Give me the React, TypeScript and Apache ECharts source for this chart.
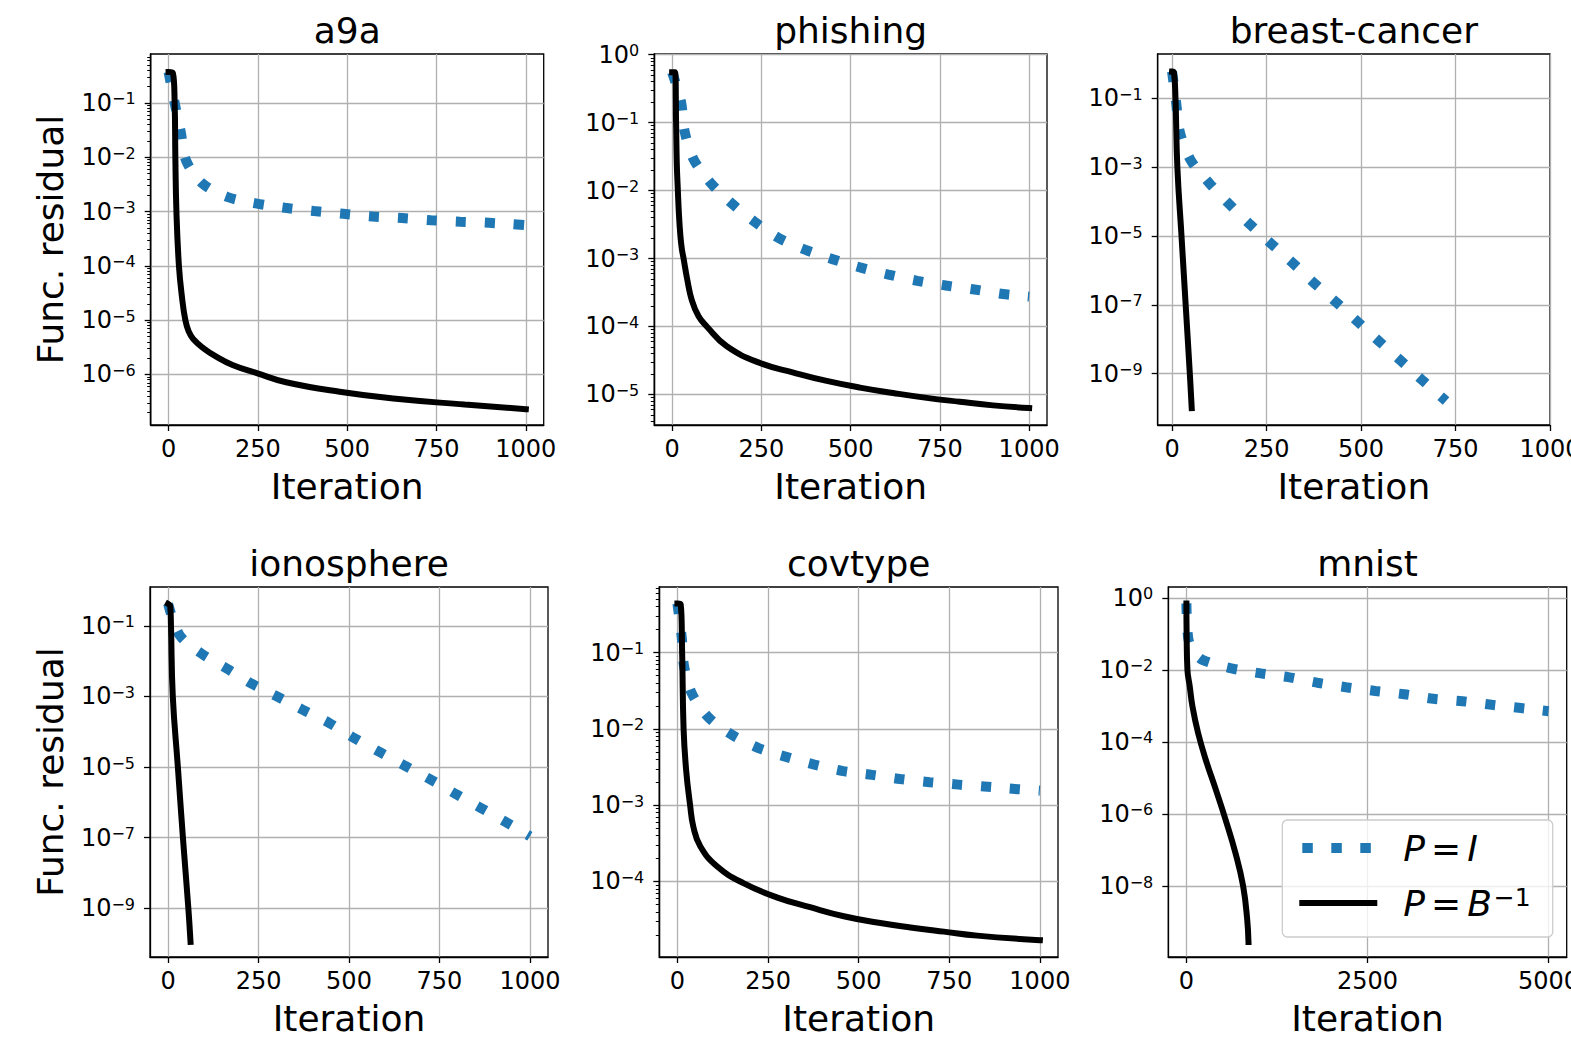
import React, { useEffect, useRef } from 'react';
import * as echarts from 'echarts';

const FONT = 'DejaVu Sans';
const BLUE = '#1f77b4';

// ---- tick labels ----
const xTicks1000 = [0, 250, 500, 750, 1000];
const xTicks5000 = [0, 2500, 5000];
const a9aYExp = [-6, -5, -4, -3, -2, -1];
const phYExp = [-5, -4, -3, -2, -1, 0];
const bcYExp = [-9, -7, -5, -3, -1];
const ioYExp = [-9, -7, -5, -3, -1];
const ctYExp = [-4, -3, -2, -1];
const mnYExp = [-8, -6, -4, -2, 0];

// ---- data: a9a ----
const a9aIterPI = [0, 17, 34, 49, 94, 164, 244, 326, 407, 489, 571, 653, 735, 816, 897, 1000];
const a9aResPI = [0.37, 0.1, 0.0295, 0.0087, 0.0033, 0.00186, 0.00141, 0.00117, 0.00102, 0.00091, 0.00081, 0.00076, 0.00069, 0.00065, 0.00062, 0.00056];
const a9aIterPB = [0, 12, 17, 19, 22, 29, 38, 47, 56, 69, 99, 130, 179, 249, 329, 479, 629, 829, 1000];
const a9aResPB = [0.37, 0.355, 0.1, 0.01, 1e-3, 1e-4, 2.5e-5, 1e-5, 6.3e-6, 4.5e-6, 3.0e-6, 2.2e-6, 1.5e-6, 1.05e-6, 7.2e-7, 4.8e-7, 3.6e-7, 2.8e-7, 2.3e-7];

// ---- data: phishing ----
const phIterPI = [0, 25, 35, 60, 108, 165, 230, 299, 372, 449, 526, 606, 687, 767, 847, 927, 1000];
const phResPI = [0.55, 0.2, 0.074, 0.029, 0.0129, 0.0066, 0.0035, 0.002, 0.00135, 0.00098, 0.00074, 0.00058, 0.00047, 0.0004, 0.00035, 0.0003, 0.000275];
const phIterPB = [0, 8, 11, 13, 16, 19, 23, 27, 32, 42, 55, 74, 97, 153, 246, 340, 433, 526, 619, 713, 806, 899, 1000];
const phResPB = [0.55, 0.55, 0.1, 0.025, 0.01, 0.0045, 0.0022, 0.0014, 0.001, 0.0005, 0.000245, 0.000141, 0.0001, 5.1e-5, 2.9e-5, 2.1e-5, 1.58e-5, 1.26e-5, 1.05e-5, 8.9e-6, 7.8e-6, 6.9e-6, 6.3e-6];

// ---- data: breast-cancer ----
const bcIterPI = [0, 11, 21, 49, 98, 151, 206, 263, 320, 377, 436, 493, 549, 607, 664, 725];
const bcResPI = [0.6, 0.071, 0.01, 0.00162, 0.00035, 8.5e-5, 2.2e-5, 5.9e-6, 1.62e-6, 4.2e-7, 1.15e-7, 3.1e-8, 8.5e-9, 2.3e-9, 6.2e-10, 1.62e-10];
const bcIterPB = [0, 5, 9, 14, 25, 36, 47, 52];
const bcResPB = [0.6, 0.56, 0.1, 1e-3, 1e-5, 1e-7, 1e-9, 1e-10];

// ---- data: ionosphere ----
const ioIterPI = [0, 32, 93, 162, 231, 303, 374, 447, 516, 587, 656, 726, 796, 865, 934, 1000];
const ioResPI = [0.42, 0.054, 0.0162, 0.0062, 0.0023, 0.00098, 0.00041, 0.000174, 6.5e-5, 2.6e-5, 1.07e-5, 4.4e-6, 1.7e-6, 6.9e-7, 2.75e-7, 1.1e-7];
const ioIterPB = [0, 6, 8, 13, 27, 41, 56, 62];
const ioResPB = [0.42, 0.355, 0.1, 1e-3, 1e-5, 1e-7, 1e-9, 1.12e-10];

// ---- data: covtype ----
const ctIterPI = [0, 12, 18, 40, 86, 148, 224, 300, 378, 457, 537, 615, 696, 776, 856, 939, 1000];
const ctResPI = [0.44, 0.158, 0.068, 0.029, 0.0141, 0.0085, 0.0056, 0.0043, 0.0034, 0.0028, 0.0025, 0.0022, 0.002, 0.00186, 0.00174, 0.00162, 0.00155];
const ctIterPB = [0, 9, 13, 17, 24, 35, 44, 63, 109, 182, 274, 366, 459, 551, 643, 735, 827, 1000];
const ctResPB = [0.44, 0.43, 0.1, 0.01, 0.0029, 0.001, 0.00052, 0.00029, 0.000158, 9.5e-5, 6.2e-5, 4.6e-5, 3.5e-5, 2.9e-5, 2.5e-5, 2.2e-5, 1.95e-5, 1.7e-5];

// ---- data: mnist ----
const mnIterPI = [0, 25, 100, 221, 608, 1005, 1406, 1806, 2203, 2608, 3009, 3410, 3811, 4217, 4618, 5000];
const mnResPI = [0.7, 0.076, 0.032, 0.019, 0.0112, 0.0081, 0.0063, 0.0044, 0.0033, 0.0026, 0.0021, 0.00158, 0.00135, 0.00107, 0.00087, 0.00071];
const mnIterPB = [0, 3, 14, 46, 83, 161, 267, 405, 539, 677, 783, 839, 857];
const mnResPB = [0.7, 0.1, 0.01, 0.0035, 0.00098, 0.000178, 3.2e-5, 4.8e-6, 7.1e-7, 8.3e-8, 1e-8, 1.2e-9, 2.8e-10];

const panels = [
  { title: 'a9a', left: 150.7, top: 54, width: 393, height: 371, xMin: -50, xMax: 1050, xTicks: xTicks1000, yMin: -6.93, yMax: -0.1, yExp: a9aYExp, minor: true, ylabel: true, pi: [a9aIterPI, a9aResPI], pb: [a9aIterPB, a9aResPB] },
  { title: 'phishing', left: 654.3, top: 54, width: 392.7, height: 371, xMin: -50, xMax: 1050, xTicks: xTicks1000, yMin: -5.45, yMax: 0.01, yExp: phYExp, minor: true, ylabel: false, pi: [phIterPI, phResPI], pb: [phIterPB, phResPB] },
  { title: 'breast-cancer', left: 1157.7, top: 54, width: 392.3, height: 371, xMin: -38, xMax: 1000, xTicks: xTicks1000, yMin: -10.49, yMax: 0.29, yExp: bcYExp, minor: false, ylabel: false, pi: [bcIterPI, bcResPI], pb: [bcIterPB, bcResPB] },
  { title: 'ionosphere', left: 150, top: 587, width: 398, height: 370, xMin: -50, xMax: 1050, xTicks: xTicks1000, yMin: -10.38, yMax: 0.1, yExp: ioYExp, minor: false, ylabel: true, pi: [ioIterPI, ioResPI], pb: [ioIterPB, ioResPB] },
  { title: 'covtype', left: 659.3, top: 587, width: 398.7, height: 370, xMin: -50, xMax: 1050, xTicks: xTicks1000, yMin: -4.99, yMax: -0.14, yExp: ctYExp, minor: true, ylabel: false, pi: [ctIterPI, ctResPI], pb: [ctIterPB, ctResPB] },
  { title: 'mnist', left: 1168.3, top: 587, width: 398.4, height: 370, xMin: -250, xMax: 5250, xTicks: xTicks5000, yMin: -9.97, yMax: 0.3, yExp: mnYExp, minor: false, ylabel: false, pi: [mnIterPI, mnResPI], pb: [mnIterPB, mnResPB] },
];

function minorTicks(min: number, max: number) {
  const out: number[] = [];
  for (let d = Math.floor(min); d <= Math.ceil(max); d++) {
    for (let k = 2; k <= 9; k++) {
      const v = d + Math.log10(k);
      if (v > min && v < max) out.push(v);
    }
  }
  return out;
}

function supText(e: number) {
  return e < 0 ? '\u2212' + String(-e) : String(e);
}

function toPoints(iters: number[], res: number[]) {
  return iters.map((x, i) => [x, Math.log10(res[i])]);
}

function buildOption() {
  const grid: any[] = [];
  const xAxis: any[] = [];
  const yAxis: any[] = [];
  const series: any[] = [];
  const graphic: any[] = [];

  panels.forEach((p, i) => {
    grid.push({
      left: p.left, top: p.top, width: p.width, height: p.height,
      show: true, borderColor: '#000', borderWidth: 1.3, backgroundColor: 'transparent',
      containLabel: false, outerBoundsMode: 'none',
    });
    xAxis.push({
      type: 'value', gridIndex: i, min: p.xMin, max: p.xMax,
      axisLine: { show: true, onZero: false, lineStyle: { color: '#000', width: 1.3 } },
      axisTick: { show: true, inside: false, length: 6, lineStyle: { color: '#000', width: 1.3 }, customValues: p.xTicks },
      axisLabel: { show: true, customValues: p.xTicks, fontSize: 24, color: '#000', fontFamily: FONT, margin: 12, formatter: (v: number) => String(v) },
      splitLine: { show: true, lineStyle: { color: '#b0b0b0', width: 1.3 } },
      name: 'Iteration', nameLocation: 'middle', nameGap: 43, nameMoveOverlap: false,
      nameTextStyle: { fontSize: 36, color: '#000', fontFamily: FONT },
    });
    const mainIdx = yAxis.length;
    yAxis.push({
      type: 'value', gridIndex: i, min: p.yMin, max: p.yMax, position: 'left',
      axisLine: { show: true, onZero: false, lineStyle: { color: '#000', width: 1.3 } },
      axisTick: { show: true, inside: false, length: 6, lineStyle: { color: '#000', width: 1.3 }, customValues: p.yExp },
      axisLabel: {
        show: true, customValues: p.yExp, margin: 15, color: '#000', fontFamily: FONT,
        formatter: (v: number) => `{b|10}{s|${supText(Math.round(v))}}`,
        rich: {
          b: { fontSize: 24, fontFamily: FONT, color: '#000', lineHeight: 24 },
          s: { fontSize: 16, fontFamily: FONT, color: '#000', lineHeight: 15, verticalAlign: 'top' },
        },
      },
      splitLine: { show: true, lineStyle: { color: '#b0b0b0', width: 1.3 } },
    });
    if (p.minor) {
      yAxis.push({
        type: 'value', gridIndex: i, min: p.yMin, max: p.yMax, position: 'left', offset: 0,
        axisLine: { show: true, onZero: false, lineStyle: { color: '#000', width: 1.3 } },
        axisTick: { show: true, inside: false, length: 3.5, lineStyle: { color: '#000', width: 1 }, customValues: minorTicks(p.yMin, p.yMax) },
        axisLabel: { show: false },
        splitLine: { show: false },
      });
    }
    series.push({
      name: 'PI', type: 'line', xAxisIndex: i, yAxisIndex: mainIdx,
      data: toPoints(p.pi[0], p.pi[1]), showSymbol: false, symbol: 'none', smooth: 0.3,
      lineStyle: { color: BLUE, width: 10, type: [10.5, 18.5], cap: 'butt' },
      itemStyle: { color: BLUE }, z: 2, silent: true,
    });
    series.push({
      name: 'PB', type: 'line', xAxisIndex: i, yAxisIndex: mainIdx,
      data: toPoints(p.pb[0], p.pb[1]), showSymbol: false, symbol: 'none', smooth: 0.45,
      lineStyle: { color: '#000', width: 6, cap: 'square' },
      itemStyle: { color: '#000' }, z: 3, silent: true,
    });
    graphic.push({
      type: 'text', x: p.left + p.width / 2, y: p.top - 23.2,
      style: { text: p.title, fontSize: 36, fontFamily: FONT, fill: '#000', align: 'center', verticalAlign: 'middle' },
    });
    if (p.ylabel) {
      graphic.push({
        type: 'text', x: 50.8, y: p.top + p.height / 2, rotation: Math.PI / 2,
        style: { text: 'Func. residual', fontSize: 36, fontFamily: FONT, fill: '#000', align: 'center', verticalAlign: 'middle' },
      });
    }
  });

  return {
    animation: false,
    textStyle: { fontFamily: FONT },
    grid, xAxis, yAxis, series, graphic,
    legend: {
      show: true, orient: 'vertical', left: 1282.3, top: 820,
      data: ['PI', 'PB'], itemWidth: 72, itemHeight: 12, itemGap: 19,
      padding: [10, 22, 16, 15], backgroundColor: 'rgba(255,255,255,0.8)',
      borderColor: '#cccccc', borderWidth: 1.3, borderRadius: 5, selectedMode: false,
      itemStyle: { opacity: 0 },
      lineStyle: { width: 'inherit', type: 'inherit', cap: 'inherit', opacity: 1 },
      formatter: (name: string) => name === 'PI'
        ? '{sp| }{i|P}{n|=}{i|I}'
        : '{sp| }{i|P}{n|=}{i|B}{s|\u22121}',
      textStyle: {
        fontFamily: FONT, fontSize: 36, color: '#000',
        rich: {
          sp: { width: 24, fontSize: 36 },
          i: { fontStyle: 'italic', fontSize: 36, fontFamily: FONT, color: '#000' },
          n: { fontSize: 36, fontFamily: FONT, color: '#000', padding: [0, 6, 0, 6] },
          s: { fontSize: 25, fontFamily: FONT, color: '#000', lineHeight: 25, verticalAlign: 'top', padding: [0, 0, 0, 2] },
        },
      },
    },
  };
}

export default function App() {
  const ref = useRef<HTMLDivElement>(null);
  useEffect(() => {
    if (!ref.current) return;
    const chart = echarts.init(ref.current, undefined, { renderer: 'svg' });
    chart.setOption(buildOption() as any);
    return () => chart.dispose();
  }, []);
  return (
    <div
      ref={ref}
      style={{ position: 'absolute', left: 0, top: 0, width: 1571, height: 1038, background: '#fff' }}
    />
  );
}
